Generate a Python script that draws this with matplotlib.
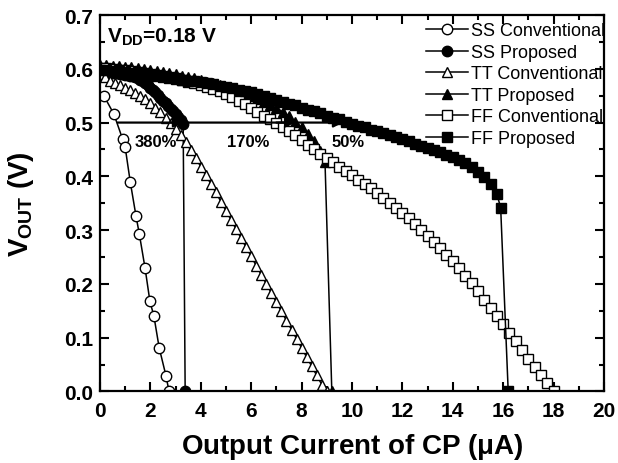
import matplotlib
matplotlib.use('Agg')
import matplotlib.pyplot as plt
from matplotlib.ticker import MultipleLocator, FormatStrFormatter

# ---- data ----
ss_conv_x = [0.15, 0.55, 0.9, 1.0, 1.2, 1.43, 1.56, 1.79, 1.98, 2.14, 2.35, 2.62, 2.74]
ss_conv_y = [0.550, 0.516, 0.469, 0.454, 0.390, 0.326, 0.293, 0.229, 0.168, 0.140, 0.081, 0.029, 0.0]

ss_prop_x = [0.0, 0.1, 0.2, 0.3, 0.4, 0.5, 0.6, 0.7, 0.8, 0.9, 1.0, 1.1, 1.2, 1.3, 1.4,
             1.5, 1.6, 1.7, 1.8, 1.9, 2.0, 2.1, 2.2, 2.3, 2.4, 2.5, 2.6, 2.7, 2.8, 2.9,
             3.0, 3.1, 3.2, 3.3, 3.38]
ss_prop_y = [0.595, 0.595, 0.595, 0.594, 0.594, 0.593, 0.593, 0.592, 0.591, 0.590, 0.589,
             0.588, 0.587, 0.586, 0.585, 0.583, 0.580, 0.577, 0.573, 0.569, 0.565, 0.561,
             0.556, 0.551, 0.546, 0.541, 0.536, 0.531, 0.526, 0.521, 0.516, 0.511, 0.504,
             0.497, 0.0]

tt_conv_x = [0.0, 0.2, 0.4, 0.6, 0.8, 1.0, 1.2, 1.4, 1.6, 1.8, 2.0, 2.2, 2.4, 2.6, 2.8,
             3.0, 3.2, 3.4, 3.6, 3.8, 4.0, 4.2, 4.4, 4.6, 4.8, 5.0, 5.2, 5.4, 5.6, 5.8,
             6.0, 6.2, 6.4, 6.6, 6.8, 7.0, 7.2, 7.4, 7.6, 7.8, 8.0, 8.2, 8.4, 8.6, 8.8, 9.0]
tt_conv_y = [0.590, 0.585, 0.578, 0.573, 0.569, 0.565, 0.560, 0.555, 0.549, 0.543, 0.536,
             0.528, 0.519, 0.509, 0.499, 0.488, 0.476, 0.463, 0.449, 0.434, 0.418, 0.402,
             0.386, 0.370, 0.353, 0.336, 0.319, 0.302, 0.285, 0.268, 0.251, 0.234, 0.217,
             0.200, 0.183, 0.166, 0.149, 0.132, 0.115, 0.098, 0.081, 0.064, 0.047, 0.030,
             0.013, 0.0]

tt_prop_x = [0.0, 0.25, 0.5, 0.75, 1.0, 1.25, 1.5, 1.75, 2.0, 2.25, 2.5, 2.75, 3.0, 3.25,
             3.5, 3.75, 4.0, 4.25, 4.5, 4.75, 5.0, 5.25, 5.5, 5.75, 6.0, 6.25, 6.5, 6.75,
             7.0, 7.25, 7.5, 7.75, 8.0, 8.25, 8.5, 8.75, 8.93, 9.2]
tt_prop_y = [0.607, 0.607, 0.606, 0.605, 0.604, 0.603, 0.601, 0.600, 0.598, 0.596, 0.594,
             0.592, 0.590, 0.587, 0.585, 0.582, 0.579, 0.576, 0.573, 0.570, 0.566, 0.562,
             0.558, 0.554, 0.549, 0.544, 0.539, 0.533, 0.527, 0.520, 0.512, 0.502, 0.491,
             0.479, 0.465, 0.448, 0.426, 0.0]

ff_conv_x = [0.0, 0.25, 0.5, 0.75, 1.0, 1.25, 1.5, 1.75, 2.0, 2.25, 2.5, 2.75, 3.0, 3.25,
             3.5, 3.75, 4.0, 4.25, 4.5, 4.75, 5.0, 5.25, 5.5, 5.75, 6.0, 6.25, 6.5, 6.75,
             7.0, 7.25, 7.5, 7.75, 8.0, 8.25, 8.5, 8.75, 9.0, 9.25, 9.5, 9.75, 10.0, 10.25,
             10.5, 10.75, 11.0, 11.25, 11.5, 11.75, 12.0, 12.25, 12.5, 12.75, 13.0, 13.25,
             13.5, 13.75, 14.0, 14.25, 14.5, 14.75, 15.0, 15.25, 15.5, 15.75, 16.0, 16.25,
             16.5, 16.75, 17.0, 17.25, 17.5, 17.75, 18.0]
ff_conv_y = [0.602, 0.601, 0.600, 0.598, 0.597, 0.595, 0.594, 0.592, 0.590, 0.588, 0.586,
             0.584, 0.581, 0.579, 0.576, 0.573, 0.570, 0.566, 0.562, 0.558, 0.553, 0.547,
             0.541, 0.534, 0.527, 0.520, 0.513, 0.507, 0.500, 0.492, 0.484, 0.476, 0.467,
             0.459, 0.451, 0.442, 0.434, 0.426, 0.418, 0.410, 0.402, 0.394, 0.386, 0.378,
             0.369, 0.360, 0.351, 0.342, 0.332, 0.322, 0.311, 0.300, 0.289, 0.278, 0.266,
             0.254, 0.242, 0.229, 0.215, 0.201, 0.186, 0.171, 0.156, 0.140, 0.125, 0.109,
             0.093, 0.077, 0.061, 0.046, 0.031, 0.015, 0.0]

ff_prop_x = [0.0, 0.25, 0.5, 0.75, 1.0, 1.25, 1.5, 1.75, 2.0, 2.25, 2.5, 2.75, 3.0, 3.25,
             3.5, 3.75, 4.0, 4.25, 4.5, 4.75, 5.0, 5.25, 5.5, 5.75, 6.0, 6.25, 6.5, 6.75,
             7.0, 7.25, 7.5, 7.75, 8.0, 8.25, 8.5, 8.75, 9.0, 9.25, 9.5, 9.75, 10.0, 10.25,
             10.5, 10.75, 11.0, 11.25, 11.5, 11.75, 12.0, 12.25, 12.5, 12.75, 13.0, 13.25,
             13.5, 13.75, 14.0, 14.25, 14.5, 14.75, 15.0, 15.25, 15.5, 15.75, 15.9, 16.2]
ff_prop_y = [0.597, 0.597, 0.596, 0.595, 0.594, 0.593, 0.592, 0.590, 0.588, 0.587, 0.585,
             0.583, 0.582, 0.580, 0.578, 0.577, 0.575, 0.573, 0.571, 0.568, 0.566, 0.564,
             0.561, 0.559, 0.556, 0.553, 0.549, 0.546, 0.542, 0.539, 0.535, 0.532, 0.528,
             0.524, 0.521, 0.517, 0.513, 0.509, 0.506, 0.502, 0.498, 0.494, 0.491, 0.487,
             0.484, 0.480, 0.476, 0.473, 0.469, 0.465, 0.461, 0.457, 0.453, 0.449, 0.445,
             0.440, 0.436, 0.431, 0.425, 0.418, 0.409, 0.399, 0.386, 0.367, 0.342, 0.0]

# arrows at V_OUT = 0.5 V: (start, end, label, label x)
arrow_start = [0.7, 2.8, 7.0]
arrow_end = [3.3, 7.75, 9.65]
arrow_text = ['380%', '170%', '50%']
arrow_text_x = [2.2, 5.87, 9.85]

plt.rcParams['font.family'] = ['Liberation Sans', 'DejaVu Sans']
plt.rcParams['font.weight'] = 'bold'
plt.rcParams['mathtext.fontset'] = 'custom'
plt.rcParams['mathtext.bf'] = 'Liberation Sans:bold'
plt.rcParams['mathtext.rm'] = 'Liberation Sans:bold'
plt.rcParams['mathtext.it'] = 'Liberation Sans:bold'

fig = plt.figure(figsize=(6.18, 4.64), dpi=100)
ax = fig.add_axes([0.1618, 0.1541, 0.8155, 0.8114])

series = [
    (ss_conv_x, ss_conv_y, 'o', 'white', 7.5, 'SS Conventional'),
    (ss_prop_x, ss_prop_y, 'o', 'black', 7.5, 'SS Proposed'),
    (tt_conv_x, tt_conv_y, '^', 'white', 7.5, 'TT Conventional'),
    (tt_prop_x, tt_prop_y, '^', 'black', 7.5, 'TT Proposed'),
    (ff_conv_x, ff_conv_y, 's', 'white', 6.5, 'FF Conventional'),
    (ff_prop_x, ff_prop_y, 's', 'black', 6.5, 'FF Proposed'),
]
for x, y, m, fc, ms, name in series:
    ax.plot(x, y, '-', color='black', lw=1.1, marker=m, ms=ms, mfc=fc,
            mec='black', mew=1.0, label=name)

for x0, x1 in zip(arrow_start, arrow_end):
    ax.annotate('', xy=(x1, 0.5), xytext=(x0, 0.5),
                arrowprops=dict(arrowstyle='-|>', color='black', lw=1.6,
                                mutation_scale=14, shrinkA=0, shrinkB=0))
for t, tx in zip(arrow_text, arrow_text_x):
    ax.text(tx, 0.465, t, ha='center', va='center', fontsize=12, fontweight='bold')

ax.text(0.28, 0.661, r'$\mathbf{V_{DD}}$=0.18 V', fontsize=15, fontweight='bold',
        va='center', ha='left')

ax.set_xlim(0, 20)
ax.set_ylim(0, 0.7)
ax.xaxis.set_major_locator(MultipleLocator(2))
ax.xaxis.set_minor_locator(MultipleLocator(1))
ax.yaxis.set_major_locator(MultipleLocator(0.1))
ax.yaxis.set_minor_locator(MultipleLocator(0.05))
ax.yaxis.set_major_formatter(FormatStrFormatter('%.1f'))
ax.tick_params(which='both', direction='in', top=True, right=True, width=1.5,
               labelsize=15)
ax.tick_params(which='major', length=6.5)
ax.tick_params(which='minor', length=3.5)
ax.tick_params(axis='x', pad=7)
ax.tick_params(axis='y', pad=5)
for s in ax.spines.values():
    s.set_linewidth(1.6)

ax.set_xlabel(r'Output Current of CP ($\mathbf{\mu}$A)', fontsize=20, fontweight='bold',
              labelpad=8)
ax.set_ylabel(r'$\mathbf{V_{OUT}}$ (V)', fontsize=20, fontweight='bold', labelpad=20)

ax.legend(loc='upper right', bbox_to_anchor=(1.01, 0.99), frameon=False, numpoints=1,
          prop={'weight': 'normal', 'size': 13}, handlelength=2.3, handletextpad=0.2,
          labelspacing=0.25, borderaxespad=0, borderpad=0.2)

fig.savefig('out.png', dpi=100)
